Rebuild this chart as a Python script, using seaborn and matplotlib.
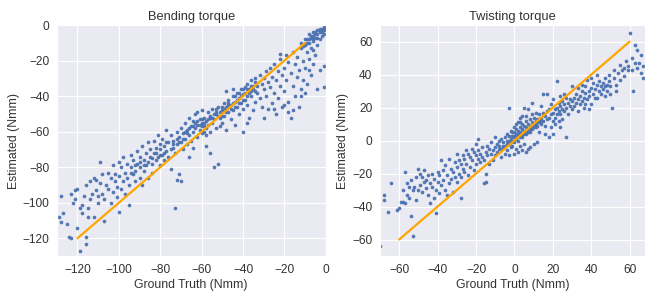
import numpy as np
import pandas as pd
import seaborn as sns
import matplotlib
matplotlib.use("Agg")
import matplotlib.pyplot as plt

# Bending torque: (ground truth, estimated)
bend_pts = [
    (-129, -108), (-128, -111), (-128, -96), (-127, -106), (-125, -112), (-124, -119), (-123, -120), (-123, -95),
    (-122, -100), (-121, -93), (-121, -98), (-120, -92), (-120, -114), (-119, -127), (-119, -103), (-118, -101),
    (-118, -106), (-117, -96), (-116, -90), (-116, -119), (-116, -123), (-115, -108), (-115, -103), (-114, -88),
    (-114, -98), (-113, -95), (-112, -86), (-111, -87), (-111, -93), (-110, -100), (-110, -96), (-112, -108),
    (-109, -77), (-109, -89), (-108, -84), (-108, -95), (-107, -98), (-107, -110), (-106, -90), (-105, -83),
    (-105, -92), (-104, -86), (-104, -100), (-103, -79), (-103, -94), (-102, -88), (-102, -84), (-101, -91),
    (-101, -97), (-100, -77), (-100, -85), (-100, -105), (-99, -80), (-99, -92), (-98, -74), (-98, -88),
    (-97, -83), (-97, -95), (-96, -78), (-96, -86), (-95, -90), (-95, -101), (-94, -73), (-94, -80),
    (-93, -84), (-93, -76), (-92, -82), (-92, -88), (-91, -71), (-91, -78), (-90, -74), (-90, -86),
    (-90, -80), (-89, -90), (-89, -68), (-88, -76), (-88, -82), (-87, -72), (-87, -79), (-86, -66),
    (-86, -86), (-85, -74), (-85, -70), (-84, -78), (-84, -83), (-83, -65), (-83, -72), (-82, -76),
    (-82, -69), (-81, -62), (-81, -74), (-80, -70), (-80, -67), (-80, -79), (-79, -64), (-79, -73),
    (-78, -68), (-78, -76), (-77, -59), (-77, -71), (-76, -66), (-76, -74), (-75, -62), (-75, -81),
    (-74, -69), (-74, -65), (-73, -72), (-73, -103), (-72, -60), (-72, -67), (-71, -63), (-71, -84),
    (-70, -66), (-70, -58), (-70, -88), (-72, -87), (-69, -61), (-69, -70), (-68, -55), (-68, -64),
    (-67, -59), (-67, -67), (-66, -52), (-66, -62), (-65, -57), (-65, -65), (-64, -54), (-64, -60),
    (-63, -50), (-63, -58), (-62, -56), (-62, -63), (-61, -53), (-61, -59), (-60, -48), (-60, -55),
    (-60, -61), (-59, -52), (-59, -57), (-58, -54), (-58, -62), (-57, -49), (-57, -56), (-56, -51),
    (-56, -60), (-55, -47), (-55, -55), (-54, -53), (-54, -80), (-53, -50), (-53, -58), (-52, -46),
    (-52, -78), (-51, -52), (-51, -57), (-50, -48), (-50, -55), (-62, -49), (-58, -68), (-56, -72),
    (-66, -74), (-64, -69), (-49, -44), (-49, -51), (-48, -46), (-48, -59), (-47, -42), (-47, -49),
    (-46, -45), (-46, -53), (-45, -40), (-45, -48), (-44, -43), (-44, -56), (-43, -38), (-43, -46),
    (-42, -41), (-42, -50), (-41, -36), (-41, -44), (-40, -39), (-40, -47), (-40, -60), (-39, -35),
    (-39, -42), (-38, -33), (-38, -45), (-37, -38), (-37, -52), (-36, -31), (-36, -40), (-35, -36),
    (-35, -48), (-34, -30), (-34, -43), (-33, -34), (-33, -38), (-32, -28), (-32, -41), (-31, -33),
    (-31, -46), (-30, -30), (-30, -36), (-30, -52), (-48, -37), (-45, -36), (-38, -55), (-29, -26),
    (-29, -40), (-28, -32), (-28, -47), (-27, -24), (-27, -35), (-26, -29), (-26, -44), (-25, -22),
    (-25, -38), (-24, -31), (-24, -50), (-23, -26), (-23, -41), (-22, -19), (-22, -34), (-21, -28),
    (-21, -46), (-20, -24), (-20, -37), (-19, -17), (-19, -31), (-18, -21), (-18, -43), (-17, -27),
    (-17, -52), (-16, -15), (-16, -34), (-15, -22), (-15, -40), (-14, -18), (-14, -29), (-13, -25),
    (-13, -46), (-12, -13), (-12, -36), (-11, -20), (-11, -31), (-10, -11), (-10, -24), (-22, -16),
    (-20, -45), (-18, -49), (-16, -48), (-12, -40), (-25, -47), (-9, -8), (-9, -15), (-8, -10),
    (-8, -19), (-7, -6), (-7, -13), (-7, -28), (-6, -9), (-6, -22), (-5, -4), (-5, -7),
    (-5, -17), (-4, -5), (-4, -11), (-4, -36), (-3, -3), (-3, -8), (-3, -25), (-2, -2),
    (-2, -6), (-2, -4), (-1, -1), (-1, -3), (-1, -5), (-9, -33), (-8, -25), (-6, -14),
    (-10, -38), (-1, -23), (-1, -35), (-6, -4), (-8, -5), (-3, -2), (-62, -54), (-61, -56),
    (-60, -57), (-59, -55), (-58, -58), (-57, -53), (-63, -55), (-64, -57), (-60, -53), (-59, -60),
    (-55, -52), (-54, -50), (-53, -47), (-52, -51), (-51, -49), (-50, -51), (-49, -47), (-48, -49),
    (-47, -45), (-46, -47), (-45, -44), (-44, -46), (-43, -42), (-42, -44), (-41, -40), (-40, -42),
    (-39, -38), (-38, -40), (-37, -36), (-36, -37), (-35, -34), (-34, -37), (-66, -58), (-67, -61),
    (-68, -60), (-69, -64), (-71, -66), (-72, -64), (-74, -67), (-75, -70), (-77, -66), (-78, -72),
    (-80, -73), (-82, -72), (-84, -75), (-86, -77), (-88, -79), (-90, -77), (-92, -79), (-94, -83),
    (-6, -6), (-5, -5), (-4, -3), (-3, -4), (-2, -3), (-1, -2), (0, -1), (-7, -7),
    (-8, -8), (-9, -10), (-6, -8), (-4, -7), (-10, -8), (-11, -12), (-12, -10), (-44, -40),
    (-42, -38), (-40, -36), (-38, -36), (-36, -34), (-34, -32), (-47, -44), (-50, -46), (-53, -49),
    (-56, -52),
]

# Twisting torque: (ground truth, estimated)
twist_pts = [
    (-70, -64), (-68, -33), (-68, -36), (-66, -43), (-64, -26), (-61, -42), (-60, -41), (-59, -37),
    (-58, -37), (-57, -38), (-57, -19), (-56, -26), (-56, -33), (-55, -35), (-54, -46), (-54, -24),
    (-53, -58), (-53, -30), (-52, -28), (-51, -36), (-51, -22), (-50, -17), (-50, -30), (-49, -20),
    (-49, -27), (-58, -30), (-55, -28), (-48, -22), (-48, -31), (-47, -25), (-47, -18), (-46, -24),
    (-46, -29), (-45, -21), (-45, -33), (-44, -26), (-44, -38), (-43, -20), (-43, -28), (-42, -23),
    (-42, -35), (-41, -44), (-41, -30), (-40, -19), (-40, -25), (-39, -32), (-39, -21), (-38, -27),
    (-38, -12), (-37, -18), (-37, -24), (-36, -30), (-36, -15), (-35, -21), (-35, -33), (-34, -11),
    (-34, -26), (-33, -17), (-33, -23), (-32, -19), (-32, -31), (-31, -13), (-31, -22), (-30, -16),
    (-30, -25), (-30, -8), (-28, -35), (-29, -12), (-29, -20), (-28, -14), (-28, -22), (-27, -9),
    (-27, -17), (-26, -11), (-26, -19), (-25, -6), (-25, -14), (-24, -8), (-24, -21), (-23, -10),
    (-23, -16), (-22, -5), (-22, -12), (-21, -7), (-21, -18), (-20, -9), (-20, -14), (-20, -2),
    (-19, -11), (-19, -6), (-18, -13), (-18, -8), (-17, -4), (-17, -10), (-16, -26), (-16, -12),
    (-15, -7), (-15, -25), (-14, -3), (-14, -9), (-13, -14), (-13, -5), (-12, -8), (-12, -1),
    (-11, -6), (-11, -12), (-10, -4), (-10, -9), (-10, 2), (-19, 1), (-15, -20), (-9, -2),
    (-9, -7), (-8, -3), (-8, 0), (-7, -5), (-7, 1), (-6, -1), (-6, -4), (-5, 2),
    (-5, -3), (-4, 0), (-4, -6), (-4, 4), (-3, -2), (-3, 3), (-3, 20), (-2, 1),
    (-2, -4), (-2, 6), (-1, 0), (-1, 3), (-1, -3), (0, 2), (0, 5), (0, -1),
    (0, 8), (1, 4), (1, 1), (1, -5), (1, 10), (2, 3), (2, 6), (2, 0),
    (3, 5), (3, 8), (3, -3), (3, 14), (4, 7), (4, 2), (4, 10), (5, 6),
    (5, 9), (5, -2), (5, 20), (6, 8), (6, 4), (6, 12), (7, 7), (7, 10),
    (7, -5), (8, 9), (8, 13), (8, 5), (9, 11), (9, 7), (9, 16), (10, 10),
    (10, 14), (10, -2), (-5, -8), (0, -8), (2, -7), (4, -6), (6, -7), (8, -4),
    (-7, -10), (-3, -9), (1, 7), (3, 11), (-1, 5), (6, 15), (9, 23), (7, 19),
    (4, 15), (2, 11), (11, 12), (11, 8), (11, 17), (12, 13), (12, 9), (12, -1),
    (13, 11), (13, 16), (13, 5), (14, 14), (14, 10), (14, 21), (15, 12), (15, 17),
    (15, 28), (16, 15), (16, 9), (16, 4), (17, 18), (17, 13), (17, 28), (18, 14),
    (18, 19), (18, 2), (19, 16), (19, 22), (19, 8), (20, 17), (20, 12), (20, 25),
    (21, 19), (21, 14), (21, 10), (22, 20), (22, 16), (22, 36), (23, 18), (23, 23),
    (23, 12), (24, 21), (24, 16), (24, 27), (25, 19), (25, 24), (25, 13), (26, 22),
    (26, 18), (27, 26), (27, 20), (27, 2), (28, 23), (28, 16), (29, 25), (29, 21),
    (30, 24), (30, 19), (30, 33), (26, 28), (20, 4), (24, 8), (31, 26), (31, 21),
    (32, 28), (32, 23), (33, 25), (33, 32), (33, 18), (34, 27), (34, 22), (35, 30),
    (35, 24), (35, 34), (36, 26), (36, 20), (37, 29), (37, 33), (38, 25), (38, 37),
    (39, 30), (39, 27), (40, 32), (40, 22), (40, 38), (41, 28), (41, 35), (42, 31),
    (42, 26), (43, 34), (43, 40), (44, 30), (44, 36), (45, 33), (45, 28), (46, 35),
    (46, 31), (47, 38), (47, 27), (48, 34), (48, 30), (49, 36), (49, 40), (50, 28),
    (50, 33), (51, 20), (39, 19), (37, 22), (43, 26), (47, 33), (52, 38), (52, 43),
    (53, 34), (54, 41), (55, 46), (55, 37), (56, 43), (57, 44), (58, 48), (59, 45),
    (60, 65), (61, 43), (61, 50), (62, 30), (63, 58), (64, 44), (64, 55), (65, 47),
    (66, 41), (66, 52), (67, 45), (67, 38), (63, 47), (59, 43), (57, 39), (53, 30),
    (0, 3), (1, 2), (2, 4), (3, 2), (4, 4), (5, 4), (6, 6), (7, 5),
    (8, 7), (9, 9), (10, 8), (11, 10), (12, 11), (13, 13), (14, 12), (-2, -1),
    (-3, 0), (-4, -2), (-6, -3), (-8, -5),
]

bend_line = [-120, -10]
twist_line = [-60, 60]

bend = pd.DataFrame(bend_pts, columns=["truth", "est"])
twist = pd.DataFrame(twist_pts, columns=["truth", "est"])

sns.set_style("darkgrid")
plt.rcParams["font.family"] = ["Liberation Sans", "DejaVu Sans"]
plt.rcParams.update({
    "xtick.labelsize": 8.6, "ytick.labelsize": 8.6,
    "axes.labelsize": 8.8, "axes.titlesize": 9.3,
    "text.color": "#333333", "axes.labelcolor": "#333333",
    "xtick.color": "#333333", "ytick.color": "#333333",
})

fig = plt.figure(figsize=(6.45, 2.92), dpi=100)
ax1 = fig.add_axes([0.088, 0.123, 0.417, 0.791])
ax2 = fig.add_axes([0.589, 0.123, 0.411, 0.791])

panels = [
    (ax1, bend, bend_line, "Bending torque", (-130, 0), (-130, 0), np.arange(-120, 1, 20)),
    (ax2, twist, twist_line, "Twisting torque", (-70, 68), (-70, 70), np.arange(-60, 61, 20)),
]
for ax, df, line, title, xl, yl, ticks in panels:
    sns.scatterplot(data=df, x="truth", y="est", ax=ax, s=7, color="#4c72b0",
                    linewidth=0, alpha=0.95)
    ax.plot(line, line, color="#ffa500", lw=1.6)
    ax.set_xlim(*xl)
    ax.set_ylim(*yl)
    ax.set_xticks(ticks)
    ax.set_yticks(ticks)
    ax.set_title(title, pad=4)
    ax.set_xlabel("Ground Truth (Nmm)", labelpad=2)
    ax.set_ylabel("Estimated (Nmm)", labelpad=2)
    ax.tick_params(pad=2)

fig.savefig("out.png", dpi=100)
